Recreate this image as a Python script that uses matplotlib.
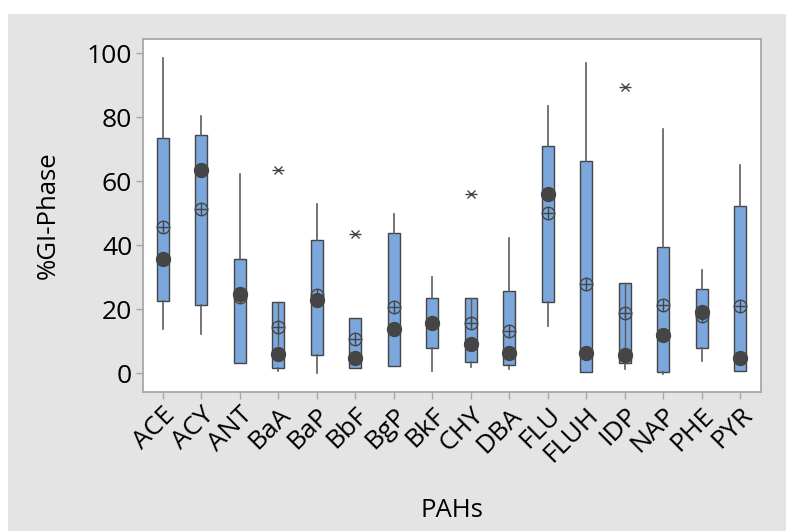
import numpy as np
import matplotlib
matplotlib.use("Agg")
import matplotlib.pyplot as plt
from matplotlib.patches import Rectangle

plt.rcParams['font.family'] = ['Open Sans', 'DejaVu Sans']
plt.rcParams['font.weight'] = 'medium'

# values (percent in gas/particle phase)
pahs = ['ACE', 'ACY', 'ANT', 'BaA', 'BaP', 'BbF', 'BgP', 'BkF',
        'CHY', 'DBA', 'FLU', 'FLUH', 'IDP', 'NAP', 'PHE', 'PYR']
whisker_low = [13.7, 12.3, 3.1, 0.7, 0.0, 1.6, 2.3, 0.7, 2.1, 1.25, 14.9, 0.5, 1.25, -0.3, 3.8, 0.8]
q1 = [22.7, 21.3, 3.1, 1.8, 5.6, 1.6, 2.3, 7.8, 3.4, 2.6, 22.2, 0.5, 3.1, 0.5, 7.8, 0.8]
medians = [35.6, 63.7, 24.8, 6.0, 22.9, 4.7, 13.7, 15.6, 9.1, 6.25, 56.0, 6.4, 5.7, 12.0, 19.3, 4.7]
q3 = [73.6, 74.5, 35.8, 22.2, 41.7, 17.2, 43.7, 23.6, 23.6, 25.7, 71.0, 66.3, 28.1, 39.4, 26.2, 52.3]
whisker_high = [98.4, 80.4, 62.2, 22.2, 52.8, 17.2, 49.8, 30.0, 23.6, 42.4, 83.5, 97.1, 28.1, 76.5, 32.3, 65.1]
means = [45.6, 51.3, 23.7, 14.6, 24.5, 10.7, 20.6, 15.6, 15.6, 13.3, 50.0, 27.9, 18.9, 21.3, 17.9, 21.1]
outliers = {'BaA': [63.5], 'BbF': [43.5], 'CHY': [55.9], 'IDP': [89.6]}
# short line segments drawn inside some boxes in the original
inner_lines = {'BaA': (8.8, 22.2), 'CHY': (15.6, 23.6), 'IDP': (3.1, 28.1)}

box_fill = '#7ba7dc'
dark = '#454545'
line_grey = '#5c5c5c'

fig = plt.figure(figsize=(7.86, 5.31), dpi=100)
fig.patch.set_facecolor('white')
fig.patches.append(Rectangle((8 / 786, 0), 1, (531 - 14) / 531, transform=fig.transFigure,
                             facecolor='#e4e4e4', edgecolor='none', zorder=-10))

ax = fig.add_axes([143.3 / 786, (531 - 391.7) / 531, (761 - 143.3) / 786, (391.7 - 39.3) / 531])
ax.set_facecolor('white')

x = np.arange(len(pahs))
stats = []
for i, name in enumerate(pahs):
    stats.append({'label': name, 'whislo': whisker_low[i], 'q1': q1[i], 'med': medians[i],
                  'q3': q3[i], 'whishi': whisker_high[i], 'fliers': outliers.get(name, [])})

ax.bxp(stats, positions=x, widths=0.31, patch_artist=True, showcaps=False,
       boxprops=dict(facecolor=box_fill, edgecolor=dark, linewidth=1.0),
       whiskerprops=dict(color=line_grey, linewidth=1.2),
       medianprops=dict(linewidth=0),
       flierprops=dict(marker='x', markersize=6, markeredgecolor=dark,
                       markeredgewidth=1.0, linestyle='none'),
       zorder=2)

# horizontal bar of the asterisk outlier symbol
for name, vals in outliers.items():
    i = pahs.index(name)
    ax.plot([x[i]] * len(vals), vals, linestyle='none', marker='_', markersize=9,
            markeredgecolor=dark, markeredgewidth=1.0, zorder=3)

for name, (lo, hi) in inner_lines.items():
    i = pahs.index(name)
    ax.plot([x[i], x[i]], [lo, hi], color=line_grey, lw=1.0, zorder=3)

ax.plot(x, means, linestyle='none', marker='o', markersize=9, markerfacecolor='none',
        markeredgecolor=dark, markeredgewidth=1.0, zorder=4)
ax.plot(x, means, linestyle='none', marker='+', markersize=9, markeredgecolor=dark,
        markeredgewidth=1.0, zorder=4)
ax.plot(x, medians, linestyle='none', marker='o', markersize=10, markerfacecolor=dark,
        markeredgecolor=dark, zorder=5)

ax.set_xlim(-0.51, 15.54)
ax.set_ylim(-5.75, 104.4)
ax.set_yticks([0, 20, 40, 60, 80, 100])
ax.set_xticks(x)
ax.set_xticklabels(pahs, rotation=45, ha='right', rotation_mode='anchor')

for s in ax.spines.values():
    s.set_color('#a8a8a8')
    s.set_linewidth(1.3)
ax.tick_params(axis='both', direction='out', length=5, width=1, color='#a8a8a8',
               labelsize=19, pad=3, labelcolor='black')

ax.set_ylabel('%GI-Phase', fontsize=18.5, labelpad=19)
ax.set_xlabel('PAHs', fontsize=18.5, labelpad=22)

fig.savefig('out.png', dpi=100)
